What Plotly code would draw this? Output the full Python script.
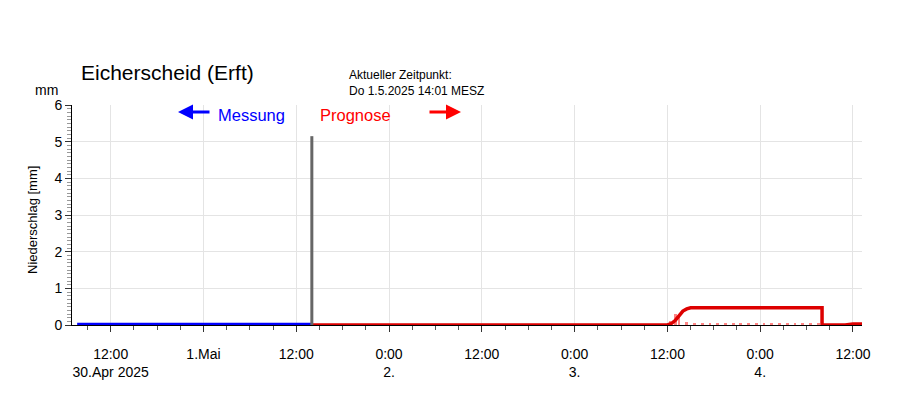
import plotly.graph_objects as go

# ---- data ----
mess_time = ["2025-04-30 07:40", "2025-04-30 18:00", "2025-05-01 06:00", "2025-05-01 14:01"]
mess_vals = [0.02, 0.02, 0.02, 0.02]

prog_time = ["2025-05-01 14:01", "2025-05-02 12:00", "2025-05-03 12:00", "2025-05-03 12:30",
             "2025-05-03 13:00", "2025-05-03 13:30", "2025-05-03 14:00", "2025-05-03 14:30",
             "2025-05-03 15:00", "2025-05-04 08:00", "2025-05-04 08:00", "2025-05-04 11:00",
             "2025-05-04 12:00", "2025-05-04 13:10"]
prog_vals = [0.0, 0.0, 0.0, 0.04, 0.12, 0.25, 0.38, 0.44, 0.47, 0.47, 0.0, 0.0, 0.03, 0.03]

bar_time = ["2025-05-03 12:20", "2025-05-03 13:00", "2025-05-03 13:30", "2025-05-03 14:30",
            "2025-05-03 15:30", "2025-05-03 16:30", "2025-05-03 17:30", "2025-05-03 18:30",
            "2025-05-03 19:30", "2025-05-03 20:30", "2025-05-03 21:30", "2025-05-03 22:30",
            "2025-05-03 23:30", "2025-05-04 00:30", "2025-05-04 01:30", "2025-05-04 02:30",
            "2025-05-04 03:30", "2025-05-04 04:30", "2025-05-04 05:30", "2025-05-04 06:30",
            "2025-05-04 07:30"]
bar_vals = [0.1, 0.3, 0.22, 0.08] + [0.05] * 17

now_time = "2025-05-01 14:01"
now_height = 5.15

tick_vals = ["2025-04-30 12:00", "2025-05-01 00:00", "2025-05-01 12:00", "2025-05-02 00:00",
             "2025-05-02 12:00", "2025-05-03 00:00", "2025-05-03 12:00", "2025-05-04 00:00",
             "2025-05-04 12:00"]
tick_text = ["12:00<br>30.Apr 2025", "1.Mai", "12:00", "0:00<br>2.", "12:00",
             "0:00<br>3.", "12:00", "0:00<br>4.", "12:00"]

x_range = ["2025-04-30 07:00", "2025-05-04 13:10"]
y_range = [0, 6]

FONT = "Liberation Sans, Arial, sans-serif"

fig = go.Figure()
fig.add_trace(go.Bar(x=bar_time, y=bar_vals, width=1300000, marker_color="rgba(255,110,110,0.85)",
                     marker_line_width=0, showlegend=False))
fig.add_trace(go.Scatter(x=mess_time, y=mess_vals, mode="lines",
                         line=dict(color="#0000ff", width=3), showlegend=False))
fig.add_trace(go.Scatter(x=prog_time, y=prog_vals, mode="lines",
                         line=dict(color="#dd0000", width=3.5), showlegend=False))
fig.add_trace(go.Scatter(x=[now_time, now_time], y=[0, now_height], mode="lines",
                         line=dict(color="#666666", width=3), showlegend=False))

# page body adds an 8px offset; margins compensate so the plot sits at x 72..862, y 105..325
fig.update_layout(
    width=900, height=396,
    margin=dict(l=64, r=46, t=97, b=79),
    paper_bgcolor="white", plot_bgcolor="white",
    font=dict(family=FONT, color="black", size=14),
    bargap=0,
)
fig.update_xaxes(
    range=x_range, type="date",
    tickvals=tick_vals, ticktext=tick_text,
    showgrid=True, gridcolor="#e4e4e4", gridwidth=1,
    showline=True, linecolor="black", linewidth=1,
    ticks="outside", ticklen=6, tickcolor="#333", tickwidth=1,
    ticklabelstandoff=10,
    tickfont=dict(size=14, family=FONT),
    minor=dict(dtick=3 * 3600 * 1000, tick0="2025-04-30 00:00", ticks="outside", ticklen=4,
               tickcolor="#555", showgrid=False),
    zeroline=False,
)
fig.update_yaxes(
    range=y_range, dtick=1, tick0=0,
    showgrid=True, gridcolor="#e4e4e4", gridwidth=1,
    showline=True, linecolor="black", linewidth=1,
    ticks="outside", ticklen=6, tickcolor="#333",
    tickfont=dict(size=14, family=FONT),
    minor=dict(dtick=0.1, ticks="outside", ticklen=4, tickcolor="#999", showgrid=False),
    zeroline=False,
)

ann = []
ann.append(dict(text="Eicherscheid (Erft)", xref="paper", yref="paper",
                x=(79 - 72) / 790, y=(325 - 72) / 220, xanchor="left", yanchor="middle",
                showarrow=False, font=dict(size=21, family=FONT, color="black")))
ann.append(dict(text="Aktueller Zeitpunkt:<br>Do 1.5.2025 14:01 MESZ", xref="paper", yref="paper",
                x=(347 - 72) / 790, y=(325 - 66) / 220, xanchor="left", yanchor="top", align="left",
                showarrow=False, font=dict(size=12, family=FONT, color="black")))
ann.append(dict(text="mm", xref="paper", yref="paper",
                x=(60 - 72) / 790, y=(325 - 90) / 220, xanchor="right", yanchor="middle",
                showarrow=False, font=dict(size=14, family=FONT, color="black")))
ann.append(dict(text="Niederschlag [mm]", xref="paper", yref="paper", textangle=-90,
                x=(32 - 72) / 790, y=(325 - 220) / 220, xanchor="center", yanchor="middle",
                showarrow=False, font=dict(size=13, family=FONT, color="black")))
ann.append(dict(text="Messung", xref="paper", yref="paper",
                x=(216 - 72) / 790, y=(325 - 115) / 220, xanchor="left", yanchor="middle",
                showarrow=False, font=dict(size=16.5, family=FONT, color="#0000ff")))
ann.append(dict(text="Prognose", xref="paper", yref="paper",
                x=(318 - 72) / 790, y=(325 - 115) / 220, xanchor="left", yanchor="middle",
                showarrow=False, font=dict(size=16.5, family=FONT, color="#ff0000")))
ann.append(dict(text="", xref="paper", yref="paper", x=(178 - 72) / 790, y=(325 - 112) / 220,
                ax=33, ay=0, showarrow=True, arrowhead=2, arrowsize=1, arrowwidth=3,
                arrowcolor="#0000ff"))
ann.append(dict(text="", xref="paper", yref="paper", x=(461 - 72) / 790, y=(325 - 112) / 220,
                ax=-33, ay=0, showarrow=True, arrowhead=2, arrowsize=1, arrowwidth=3,
                arrowcolor="#ff0000"))
fig.update_layout(annotations=ann)

fig.write_html("out.html")
